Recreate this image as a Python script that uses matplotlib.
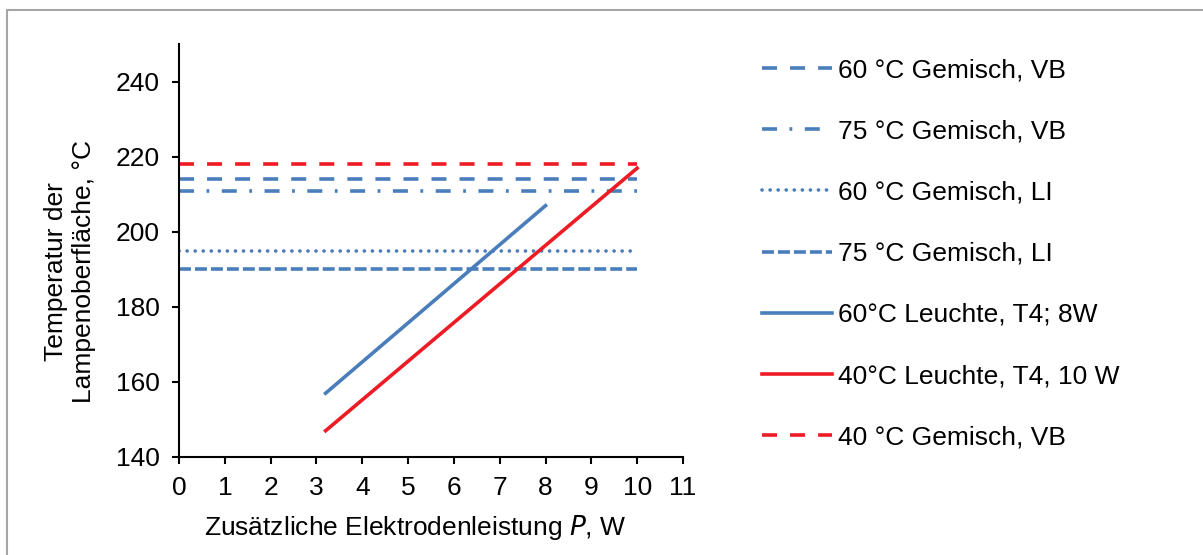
import matplotlib
matplotlib.use("Agg")
import matplotlib.pyplot as plt
from matplotlib.lines import Line2D

plt.rcParams['font.family'] = ['Liberation Sans', 'DejaVu Sans']
plt.rcParams['lines.scale_dashes'] = False

BLUE = '#4A7EBB'
RED = '#ED1C24'

# horizontal limits, drawn from P = 0 to P = 10 W
p_range = [0, 10]
vb_60 = 214
vb_75 = 211
li_60 = 195
li_75 = 190
vb_40 = 218

# lamp measurements
p_60_leuchte = [3.2, 8]
t_60_leuchte = [157, 207]
p_40_leuchte = [3.2, 10]
t_40_leuchte = [147, 217]

FS = 19

fig = plt.figure(figsize=(12.03, 5.55), dpi=100)
ax = fig.add_axes([0.1488, 0.1766, 0.4189, 0.7434])

lw = 2.6
ax.plot(p_range, [vb_60] * 2, color=BLUE, lw=lw, dashes=(10.8, 9.4), label='60 °C Gemisch, VB')
ax.plot(p_range, [vb_75] * 2, color=BLUE, lw=lw, dashes=(10.8, 9, 2, 9), label='75 °C Gemisch, VB')
ax.plot(p_range, [li_60] * 2, color=BLUE, lw=lw, dashes=(0.1, 5.7), dash_capstyle='round',
        label='60 °C Gemisch, LI')
ax.plot(p_range, [li_75] * 2, color=BLUE, lw=lw, dashes=(8.6, 2.9), label='75 °C Gemisch, LI')
ax.plot(p_60_leuchte, t_60_leuchte, color=BLUE, lw=lw, label='60°C Leuchte, T4; 8W')
ax.plot(p_40_leuchte, t_40_leuchte, color=RED, lw=lw, label='40°C Leuchte, T4, 10 W')
ax.plot(p_range, [vb_40] * 2, color=RED, lw=lw, dashes=(10.8, 9.4), label='40 °C Gemisch, VB')

ax.set_xlim(0, 11)
ax.set_ylim(140, 250)
ax.set_xticks(range(0, 12))
ax.set_yticks(range(140, 241, 20))
for s in ['top', 'right']:
    ax.spines[s].set_visible(False)
for s in ['left', 'bottom']:
    ax.spines[s].set_linewidth(1.5)
ax.tick_params(labelsize=FS, length=5, width=1.5, pad=9)

ax.set_xlabel('Zusätzliche Elektrodenleistung $\\it{P}$, W', fontsize=FS)
ax.xaxis.set_label_coords(0.469, -0.172)
ax.xaxis.label.set_va('center')
ax.set_ylabel('Temperatur der\nLampenoberfläche, °C', fontsize=FS)
ax.yaxis.set_label_coords(-0.165, 0.449)

fig.legend(loc='upper left', bbox_to_anchor=(0.6135, 0.938), frameon=False,
           fontsize=FS, handlelength=2.65, handletextpad=0.23, labelspacing=1.41)

# chart area border
fig.add_artist(Line2D([7 / 1203, 1], [1 - 10 / 555] * 2, transform=fig.transFigure, color='#a6a6a6', lw=1.5))
fig.add_artist(Line2D([7 / 1203] * 2, [0, 1 - 10 / 555], transform=fig.transFigure, color='#a6a6a6', lw=1.5))

fig.savefig('out.png', dpi=100)
